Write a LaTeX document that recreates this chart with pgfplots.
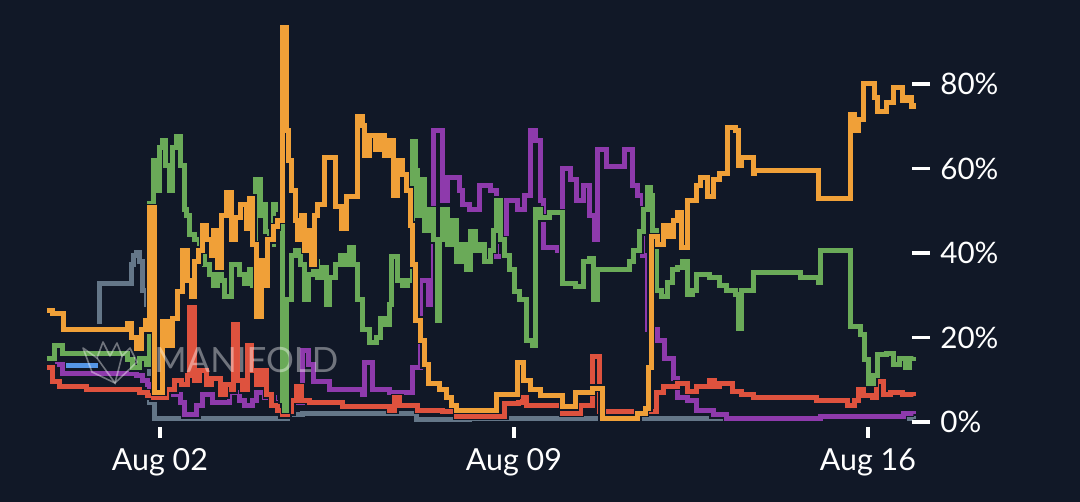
\documentclass[border=0pt]{standalone}
\usepackage{pgfplots}
\pgfplotsset{compat=1.18}
\usepackage{pgfplotstable}
\usepackage{fontspec}
\setmainfont{Lato}
\definecolor{bgc}{RGB}{17,24,39}
\definecolor{cor}{RGB}{240,160,56}
\definecolor{cgr}{RGB}{106,170,88}
\definecolor{cpu}{RGB}{142,58,172}
\definecolor{cre}{RGB}{222,82,62}
\definecolor{cgy}{RGB}{100,118,136}
\definecolor{cbl}{RGB}{85,150,230}

\pgfplotstableread{
x y
-2.235 26.3
-2.116 25.6
-1.898 21.8
-0.633 23.4
-0.554 20.1
-0.455 17.5
-0.356 21.8
-0.277 24.1
-0.218 21.8
-0.198 50.7
-0.099 7.1
0.059 23.7
0.158 18.0
0.257 24.6
0.356 30.8
0.455 40.7
0.554 33.6
0.633 29.6
0.692 37.9
0.771 40.7
0.850 46.6
0.929 43.1
1.009 39.5
1.068 45.4
1.147 36.5
1.226 49.0
1.325 54.4
1.424 43.1
1.503 48.3
1.602 51.4
1.701 45.9
1.780 53.0
1.839 41.9
1.918 24.9
2.017 38.3
2.076 32.4
2.136 43.1
2.235 46.2
2.314 47.8
2.413 93.3
2.511 69.1
2.551 62.0
2.610 54.9
2.670 47.8
2.729 43.1
2.808 49.0
2.867 40.7
2.927 45.4
3.006 37.2
3.065 49.0
3.124 51.4
3.263 62.7
3.461 50.9
3.599 45.9
3.698 53.3
3.896 72.2
3.995 70.3
4.054 63.2
4.153 67.9
4.252 64.4
4.351 67.9
4.449 63.2
4.528 66.7
4.608 53.7
4.687 62.0
4.786 58.5
4.865 54.9
4.944 46.6
5.003 37.2
5.062 24.1
5.142 19.4
5.221 13.5
5.300 9.2
5.537 7.6
5.675 5.7
5.774 4.0
5.873 2.8
6.664 6.4
7.060 14.0
7.198 9.9
7.317 7.6
7.515 6.2
7.969 3.6
8.207 7.1
8.543 8.0
8.741 0.9
9.452 2.1
9.591 3.3
9.670 13.0
9.710 43.8
9.848 41.9
9.947 46.6
10.046 43.8
10.145 47.8
10.243 49.5
10.303 41.2
10.422 52.5
10.619 56.1
10.698 57.8
10.817 53.3
10.936 57.3
11.074 58.9
11.232 69.6
11.371 69.1
11.430 60.8
11.509 62.5
11.727 58.9
11.766 59.6
13.012 53.0
13.645 72.7
13.724 69.1
13.803 71.5
13.902 80.2
14.139 76.9
14.198 73.4
14.376 75.7
14.495 79.1
14.673 76.2
14.772 76.7
14.851 74.6
14.910 75.5
}\orange

\pgfplotstableread{
x y
-2.235 15.1
-2.076 18.2
-1.918 16.3
-0.633 14.7
-0.534 12.8
-0.396 15.1
-0.257 13.5
-0.198 51.8
-0.138 62.0
-0.059 54.9
0.000 64.9
0.059 66.7
0.119 60.8
0.198 54.9
0.257 64.9
0.336 67.5
0.396 60.8
0.475 50.2
0.534 49.0
0.593 44.3
0.692 43.1
0.791 40.7
0.890 37.2
0.989 34.8
1.068 32.4
1.147 38.8
1.226 33.6
1.285 29.6
1.424 37.2
1.582 34.8
1.681 32.9
1.780 36.0
1.839 32.4
1.898 57.3
1.978 49.0
2.037 51.4
2.096 45.0
2.175 41.9
2.254 51.4
2.333 50.2
2.413 5.2
2.472 2.8
2.511 28.9
2.610 39.5
2.689 40.7
2.769 37.2
2.867 28.9
2.946 34.8
3.026 37.9
3.105 34.1
3.204 36.5
3.283 27.7
3.362 34.1
3.461 37.2
3.560 39.5
3.658 37.2
3.738 41.2
3.836 37.2
3.915 28.9
4.014 21.8
4.153 18.9
4.291 19.9
4.370 24.6
4.469 23.0
4.548 27.7
4.588 39.1
4.687 33.6
4.786 32.4
4.904 33.6
5.003 66.3
5.062 59.6
5.102 49.0
5.161 57.3
5.240 45.4
5.339 50.2
5.418 43.1
5.478 24.1
5.537 43.1
5.596 50.2
5.695 41.9
5.774 47.8
5.873 37.9
5.972 41.9
6.071 36.0
6.150 45.0
6.249 40.7
6.328 41.9
6.427 37.9
6.526 40.7
6.605 45.4
6.664 52.5
6.724 43.1
6.822 39.5
6.921 36.0
7.001 30.8
7.119 28.9
7.257 19.4
7.376 18.2
7.435 50.2
7.515 48.3
7.712 49.5
7.969 32.9
8.108 32.7
8.207 32.0
8.365 37.9
8.503 38.8
8.563 28.9
8.642 36.0
9.294 37.9
9.373 40.7
9.492 45.0
9.571 50.2
9.631 55.4
9.690 53.7
9.749 45.4
9.828 31.2
9.927 29.8
10.026 33.1
10.125 36.0
10.224 36.5
10.323 37.9
10.422 30.1
10.540 31.2
10.619 34.8
10.876 34.1
11.074 32.4
11.212 31.2
11.371 30.1
11.430 22.2
11.509 31.2
11.727 35.5
12.656 34.1
13.012 33.1
13.052 40.7
13.645 22.5
13.843 20.6
13.922 14.7
14.001 9.2
14.119 11.1
14.198 15.9
14.376 16.3
14.495 13.5
14.633 15.1
14.752 12.8
14.831 15.1
14.910 15.4
}\green

\pgfplotstableread{
x y
-2.076 13.5
-1.918 11.4
-0.455 10.9
-0.336 9.9
-0.237 8.8
-0.198 6.4
0.396 4.7
0.494 1.7
0.732 4.0
0.850 6.4
1.048 4.7
1.384 6.9
1.582 5.2
1.681 3.8
1.839 5.2
1.918 7.1
2.076 5.9
2.274 4.7
2.828 17.0
2.927 13.5
3.026 9.5
3.362 7.6
4.014 6.4
4.054 14.2
4.212 7.6
4.548 6.9
5.003 12.8
5.142 33.6
5.300 27.7
5.399 69.1
5.577 52.5
5.695 57.8
5.932 54.9
5.992 51.4
6.130 50.2
6.328 56.1
6.526 54.9
6.664 39.1
6.862 52.5
7.060 50.2
7.218 53.7
7.317 69.1
7.435 66.7
7.515 52.5
7.574 41.2
7.870 40.7
7.969 60.1
8.108 57.3
8.246 52.5
8.365 56.1
8.503 49.0
8.602 43.1
8.661 64.4
8.839 60.4
9.195 64.4
9.353 56.1
9.452 53.7
9.532 52.5
9.551 39.5
9.650 21.8
9.848 19.4
9.986 15.1
10.145 10.4
10.224 5.9
10.422 5.2
10.619 2.8
10.936 1.7
11.212 0.9
13.052 1.2
14.693 2.1
14.910 1.9
}\purple

\pgfplotstableread{
x y
-2.235 12.8
-2.116 9.5
-1.978 8.5
-1.444 7.6
-0.396 6.9
-0.237 6.2
-0.138 5.7
0.138 7.6
0.297 9.9
0.435 8.8
0.554 11.1
0.593 27.2
0.692 9.9
0.791 12.3
0.929 8.8
1.028 10.4
1.187 6.4
1.305 8.8
1.424 7.6
1.463 23.0
1.542 9.9
1.641 7.6
1.740 18.2
1.819 12.3
1.918 8.8
2.017 12.3
2.116 6.4
2.215 4.0
2.314 2.8
2.413 1.7
2.531 2.4
2.610 5.2
2.709 8.3
2.808 5.2
2.966 4.7
3.619 3.6
4.548 2.8
4.647 5.7
4.746 4.0
5.102 2.8
5.596 2.4
5.873 1.4
6.822 4.3
7.080 4.5
7.159 5.7
7.257 4.0
7.969 2.1
8.306 3.8
8.543 15.4
8.701 2.4
9.828 6.9
9.947 8.5
10.224 9.0
10.422 7.3
10.619 8.3
10.876 9.9
10.975 8.5
11.074 9.2
11.331 7.3
11.509 6.4
11.727 5.9
12.992 5.2
13.605 4.0
13.743 5.2
13.803 7.8
13.902 6.2
14.099 5.7
14.178 9.5
14.317 6.4
14.436 7.1
14.673 6.4
14.910 6.2
}\red

\pgfplotstableread{
x y
-1.246 23.7
-1.187 32.9
-0.573 37.2
-0.514 39.5
-0.455 40.2
-0.396 37.9
-0.336 31.2
-0.257 27.7
-0.198 4.5
-0.099 0.9
2.531 1.7
2.828 1.9
5.082 0.7
6.130 0.9
14.910 0.7
}\gray

\pgfplotstableread{
x y
-1.859 13.3
-1.226 13.3
}\blue

\pgfplotsset{
  outl/.style={const plot, draw=bgc, line width=4.0bp, line join=miter},
  ser/.style={const plot, line width=2.5bp, line join=miter},
}

\begin{document}
\begin{tikzpicture}
\path[use as bounding box, fill=bgc] (0,0) rectangle (540bp,251bp);
\begin{axis}[
  at={(23.35bp,37.46bp)}, anchor=south west,
  scale only axis, width=434.65bp, height=203.2bp,
  xmin=-2.24, xmax=14.95, ymin=-1.2, ymax=95,
  axis line style={draw=none},
  clip=false, no markers,
  xtick={0,7,14}, xticklabels={Aug 02,Aug 09,Aug 16},
  ytick={0,20,40,60,80}, yticklabels={0\%,20\%,40\%,60\%,80\%},
  yticklabel pos=right,
  major tick length=0pt, tick style={draw=none},
  xticklabel style={anchor=base, inner sep=0pt, yshift=-21.5bp, text=white, font=\fontsize{15.2bp}{18bp}\selectfont},
  yticklabel style={anchor=west, inner sep=0pt, xshift=12bp, text=white, font=\fontsize{14.8bp}{18bp}\selectfont},
]
\addplot[outl] table {\gray};
\addplot[ser, draw=cgy] table {\gray};
\addplot[outl] table {\purple};
\addplot[ser, draw=cpu] table {\purple};
\addplot[outl] table {\red};
\addplot[ser, draw=cre] table {\red};
\addplot[outl] table {\blue};
\addplot[ser, draw=cbl] table {\blue};
\addplot[outl] table {\green};
\addplot[ser, draw=cgr] table {\green};
\addplot[outl] table {\orange};
\addplot[ser, draw=cor] table {\orange};
\draw[white, line width=1.8bp] (axis cs:14.95,0) ++(-2bp,0bp) -- ++(9bp,0bp);
\draw[white, line width=1.8bp] (axis cs:14.95,20) ++(-2bp,0bp) -- ++(9bp,0bp);
\draw[white, line width=1.8bp] (axis cs:14.95,40) ++(-2bp,0bp) -- ++(9bp,0bp);
\draw[white, line width=1.8bp] (axis cs:14.95,60) ++(-2bp,0bp) -- ++(9bp,0bp);
\draw[white, line width=1.8bp] (axis cs:14.95,80) ++(-2bp,0bp) -- ++(9bp,0bp);
\draw[white, line width=1.6bp] (axis cs:0,-1.2) -- ++(0bp,-5.5bp);
\draw[white, line width=1.6bp] (axis cs:7,-1.2) -- ++(0bp,-5.5bp);
\draw[white, line width=1.6bp] (axis cs:14,-1.2) -- ++(0bp,-5.5bp);
\end{axis}
\node[anchor=base west, text=white, opacity=0.4, font=\fontsize{17.4bp}{18bp}\selectfont, inner sep=0pt] at (77bp,64.5bp) {MANIFOLD};
\draw[white, opacity=0.4, line width=0.8bp, line join=round] (41.5bp,77bp) -- (48.5bp,72bp) -- (51.5bp,80bp) -- (55bp,73bp) -- (58.5bp,79.5bp) -- (61bp,73bp) -- (65bp,77bp) -- (68.5bp,70bp) -- (57.5bp,59.5bp) -- (46bp,65bp) -- cycle;
\draw[white, opacity=0.4, line width=0.8bp] (48.5bp,72bp) -- (57.5bp,59.5bp) -- (61bp,73bp);
\end{tikzpicture}
\end{document}
